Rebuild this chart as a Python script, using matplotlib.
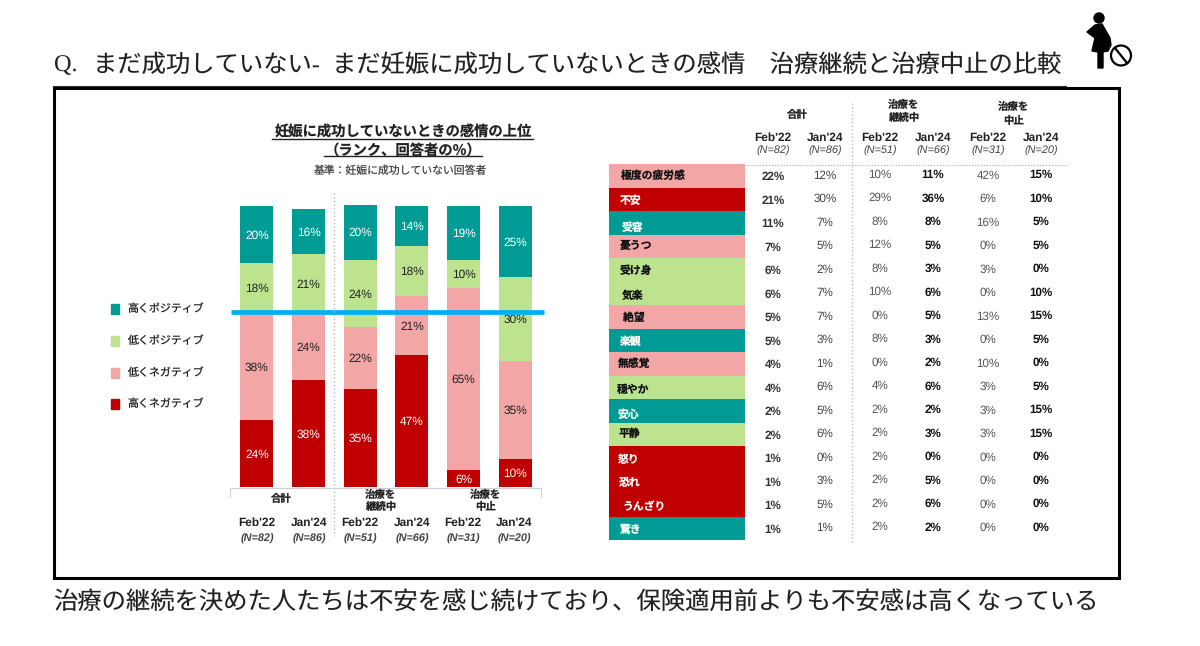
import matplotlib
matplotlib.use("Agg")
import matplotlib.pyplot as plt
from matplotlib.patches import Circle, Polygon, Rectangle

plt.rcParams["text.hinting"] = "no_hinting"

W, H = 1200, 646

JP = ["Noto Sans CJK JP", "DejaVu Sans"]
SERIF_JP = ["Liberation Serif", "Noto Sans CJK JP"]
LATIN = ["Liberation Sans", "DejaVu Sans"]

TEAL = "#009B95"
GREEN = "#BDE38F"
PINK = "#F2A6A6"
RED = "#C00000"
BLUE = "#00B0F0"

# stacked bars, bottom segment first
months = ["Feb'22", "Jan'24", "Feb'22", "Jan'24", "Feb'22", "Jan'24"]
sample_sizes = ["(N=82)", "(N=86)", "(N=51)", "(N=66)", "(N=31)", "(N=20)"]
high_negative = [24, 38, 35, 47, 6, 10]
low_negative = [38, 24, 22, 21, 65, 35]
low_positive = [18, 21, 24, 18, 10, 30]
high_positive = [20, 16, 20, 14, 19, 25]

legend_labels = ["高くポジティブ", "低くポジティブ", "低くネガティブ", "高くネガティブ"]
legend_colors = [TEAL, GREEN, PINK, RED]

# emotion table
emotions = ["極度の疲労感", "不安", "受容", "憂うつ", "受け身", "気楽", "絶望", "楽観",
            "無感覚", "穏やか", "安心", "平静", "怒り", "恐れ", "うんざり", "驚き"]
emotion_colors = [PINK, RED, TEAL, PINK, GREEN, GREEN, PINK, TEAL,
                  PINK, GREEN, TEAL, GREEN, RED, RED, RED, TEAL]
total_feb22 = [22, 21, 11, 7, 6, 6, 5, 5, 4, 4, 2, 2, 1, 1, 1, 1]
total_jan24 = [12, 30, 7, 5, 2, 7, 7, 3, 1, 6, 5, 6, 0, 3, 5, 1]
continuing_feb22 = [10, 29, 8, 12, 8, 10, 0, 8, 0, 4, 2, 2, 2, 2, 2, 2]
continuing_jan24 = [11, 36, 8, 5, 3, 6, 5, 3, 2, 6, 2, 3, 0, 5, 6, 2]
stopped_feb22 = [42, 6, 16, 0, 3, 0, 13, 0, 10, 3, 3, 3, 0, 0, 0, 0]
stopped_jan24 = [15, 10, 5, 5, 0, 10, 15, 5, 0, 5, 15, 15, 0, 0, 0, 0]

fig = plt.figure(figsize=(W / 100, H / 100), dpi=100, facecolor="white")

# page axes in pixel units, everything except the bars lives here
page = fig.add_axes([0, 0, 1, 1], zorder=2)
page.set_xlim(0, W)
page.set_ylim(H, 0)
page.axis("off")


def jp(x, y, s, size=8, color="#222222", weight="normal", ha="center", family=JP):
    page.text(x, y, s, fontsize=size, color=color, fontweight=weight,
              ha=ha, va="center", family=family)


def latin(x, y, s, size=8, color="#222222", weight="normal", style="normal"):
    page.text(x, y, s, fontsize=size, color=color, fontweight=weight, fontstyle=style,
              ha="center", va="center", family=LATIN)


# heading and conclusion
jp(54, 65, "Q.", size=17.5, ha="left", family=SERIF_JP)
jp(93, 65, "まだ成功していない-  まだ妊娠に成功していないときの感情　治療継続と治療中止の比較",
   size=17.5, ha="left", family=SERIF_JP)
jp(53, 603, "治療の継続を決めた人たちは不安を感じ続けており、保険適用前よりも不安感は高くなっている",
   size=17.5, ha="left", family=SERIF_JP)
page.add_patch(Rectangle((54, 88), 1065, 490, fill=False, ec="black", lw=2.2))
page.plot([53, 1066], [85.5, 85.5], color="#333333", lw=0.8)

# pregnant figure with the prohibition sign
page.add_patch(Circle((1099, 18), 5, color="black"))
page.add_patch(Polygon([(1095, 25), (1102, 24), (1110, 38), (1111, 45), (1108, 51), (1103, 52),
                        (1103, 68), (1098, 68), (1098, 52), (1092, 51), (1095, 38), (1087, 32)],
                       color="black"))
page.add_patch(Circle((1121, 55.5), 10, fill=False, ec="black", lw=1.6))
page.plot([1115, 1127], [48, 63], color="black", lw=1.6)

# chart heading
jp(403, 132, "妊娠に成功していないときの感情の上位", size=10.3, weight="bold")
page.plot([272, 533], [138.5, 138.5], color="#222222", lw=1)
jp(403, 151, "（ランク、回答者の%）", size=10.3, weight="bold")
page.plot([324, 482], [156, 156], color="#222222", lw=1)
jp(401, 171, "基準：妊娠に成功していない回答者", size=7.8, color="#444444")

# legend
for y, label, color in zip([309, 341, 373, 404], legend_labels, legend_colors):
    page.add_patch(Rectangle((111, y - 5), 8, 10, color=color))
    jp(127, y, label, size=7.9, ha="left")

# stacked bars
bars = fig.add_axes([231 / W, 1 - 487 / H, 310 / W, 282 / H], zorder=1)
x = range(len(months))
bottom = [0] * len(months)
series = [(high_negative, RED, "white"), (low_negative, PINK, "#222222"),
          (low_positive, GREEN, "#222222"), (high_positive, TEAL, "white")]
for values, color, text_color in series:
    bars.bar(x, values, 0.64, bottom=bottom, color=color)
    for i, v in enumerate(values):
        bars.text(i, bottom[i] + v / 2 - 0.4, f"{v}%", color=text_color, fontsize=8.6,
                  ha="center", va="center", family=LATIN)
    bottom = [b + v for b, v in zip(bottom, values)]
bars.set_xlim(-0.5, 5.5)
bars.set_ylim(0, 100.5)
bars.axis("off")

page.plot([231, 544], [312, 312], color=BLUE, lw=3.4, solid_capstyle="butt")
page.plot([334, 334], [193, 536], color="#bbbbbb", lw=1, ls=":")
page.plot([230, 230, 541, 541], [497, 488, 488, 497], color="#c8d0d8", lw=0.8)

jp(280, 499, "合計", size=7.5, weight="bold")
jp(381, 495, "治療を", size=7.5, weight="bold")
jp(381, 507, "継続中", size=7.5, weight="bold")
jp(486, 495, "治療を", size=7.5, weight="bold")
jp(486, 507, "中止", size=7.5, weight="bold")
for cx, month, n in zip([257, 309, 360, 412, 463, 514], months, sample_sizes):
    latin(cx, 523, month, size=8.6, weight="bold")
    latin(cx, 539, n, size=7.8, weight="bold", color="#444444", style="italic")

# table headers
jp(796, 115, "合計", size=7.5, weight="bold")
jp(904, 105, "治療を", size=7.5, weight="bold")
jp(904, 118, "継続中", size=7.5, weight="bold")
jp(1014, 107, "治療を", size=7.5, weight="bold")
jp(1014, 121, "中止", size=7.5, weight="bold")
col_x = [773, 825, 880, 933, 988, 1041]
for cx, month, n in zip(col_x, months, sample_sizes):
    latin(cx, 138, month, size=8.6, weight="bold")
    latin(cx, 151, n, size=7.8, color="#444444", style="italic")
page.plot([745, 1068], [165, 165], color="#aaaaaa", lw=0.8, ls=":")
page.plot([852, 852], [103, 543], color="#bbbbbb", lw=1, ls=":")

# emotion bands
row_h = 23.5
row_y = [164 + row_h * (i + 0.5) for i in range(len(emotions))]
page.barh(row_y, [136.5] * len(emotions), row_h, left=608.5, color=emotion_colors)
label_x = [621, 620, 622, 620, 620, 622, 623, 620, 618, 617, 618, 619, 618, 619, 623, 619]
label_y = [176, 201, 228, 246, 271, 296, 318, 342, 364, 390, 415, 434, 460, 482, 507, 530]
for lx, ly, name, color in zip(label_x, label_y, emotions, emotion_colors):
    text_color = "white" if color in (RED, TEAL) else "#111111"
    jp(lx, ly, name, size=7.8, color=text_color, weight="bold", ha="left")

# table values
columns = [total_feb22, total_jan24, continuing_feb22, continuing_jan24, stopped_feb22, stopped_jan24]
col_dy = [1.5, 0, -1, -0.5, 0, -0.5]
col_color = ["#333333", "#444444", "#555555", "#111111", "#555555", "#111111"]
col_weight = ["bold", "normal", "normal", "bold", "normal", "bold"]
for cx, values, dy, color, weight in zip(col_x, columns, col_dy, col_color, col_weight):
    for i, v in enumerate(values):
        latin(cx, 175.5 + 23.5 * i + dy, f"{v}%", size=8.4, color=color, weight=weight)

fig.savefig("out.png", dpi=100)
